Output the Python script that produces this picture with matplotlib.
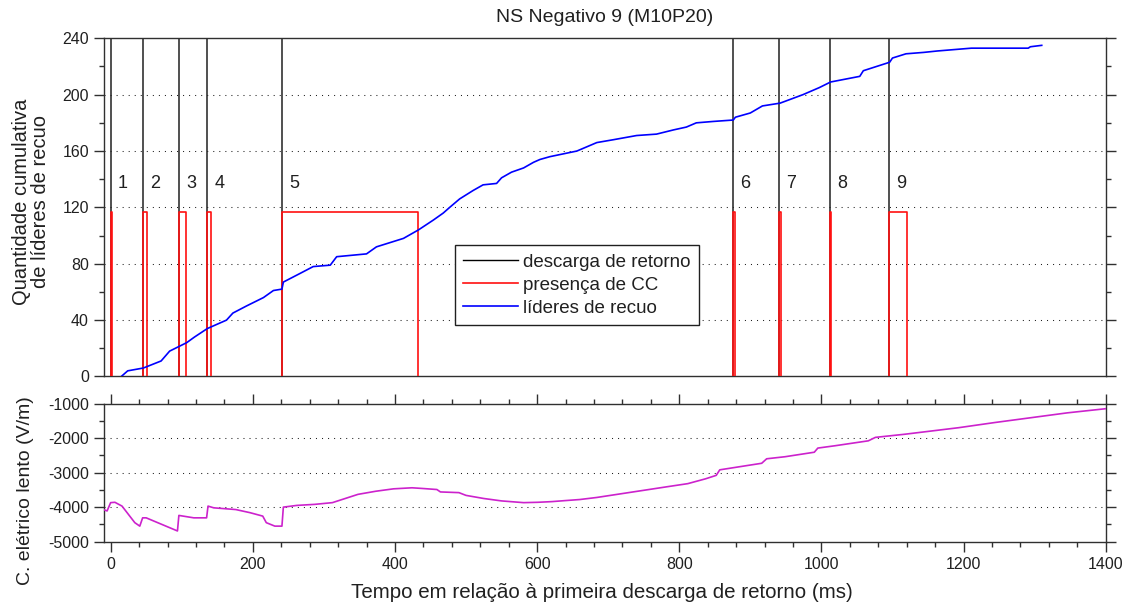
import matplotlib
matplotlib.use('Agg')
import matplotlib.pyplot as plt
from matplotlib.ticker import MultipleLocator
from matplotlib.lines import Line2D

plt.rcParams['font.family'] = ['Liberation Sans', 'DejaVu Sans']
plt.rcParams['axes.unicode_minus'] = False

# ---------------- data ----------------
stroke_times = [0, 46, 96, 136, 241, 875.5, 940.5, 1012, 1095]
stroke_labels = ['1', '2', '3', '4', '5', '6', '7', '8', '9']
cc_start = [0, 46, 96, 136, 241, 875.5, 940.5, 1012, 1095]
cc_end = [2.5, 50.5, 105.5, 141, 432.5, 878, 942.5, 1013.5, 1120]
cc_level = 117

rl_time = [15, 24, 46, 71, 83, 95, 107, 118, 136, 163,
           172, 191, 215, 229, 241, 243, 266, 285, 309, 318,
           360, 374, 412, 433, 454, 468, 477, 491, 510, 524,
           543, 550, 564, 581, 595, 604, 618, 637, 656, 670,
           684, 707, 740, 768, 792, 810, 824, 848, 876, 879,
           900, 917, 942, 974, 997, 1013, 1054, 1059, 1096, 1100,
           1119, 1144, 1163, 1211, 1291, 1294, 1310]
rl_count = [0, 4, 6, 11, 18, 21, 24, 28, 34, 40,
            45, 50, 56, 61, 62, 67, 73, 78, 79, 85,
            87, 92, 98, 104, 111, 116, 120, 126, 132, 136,
            137, 141, 145, 148, 152, 154, 156, 158, 160, 163,
            166, 168, 171, 172, 175, 177, 180, 181, 182, 184,
            187, 192, 194, 200, 205, 209, 213, 217, 223, 226,
            229, 230, 231, 233, 233, 234, 235]

ef_time = [-9, -5, 0, 6, 16, 34, 41, 45, 50, 94,
           96, 102, 117, 135, 137, 145, 176, 196, 214, 219,
           231, 241, 243, 262, 287, 312, 333, 348, 373, 398,
           424, 439, 459, 464, 490, 500, 525, 550, 581, 601,
           621, 640, 660, 684, 735, 786, 812, 837, 852, 857,
           888, 916, 923, 949, 990, 995, 1020, 1066, 1076, 1117,
           1193, 1244, 1295, 1346, 1400]
ef_value = [-4080, -4110, -3870, -3860, -3970, -4450, -4550, -4310, -4310, -4690,
            -4240, -4260, -4310, -4310, -3970, -4020, -4070, -4160, -4260, -4450,
            -4550, -4550, -4000, -3950, -3920, -3870, -3730, -3630, -3540, -3470,
            -3440, -3460, -3490, -3560, -3580, -3660, -3750, -3820, -3870, -3860,
            -3840, -3810, -3780, -3720, -3560, -3400, -3320, -3180, -3080, -2920,
            -2820, -2730, -2600, -2540, -2410, -2290, -2220, -2080, -1980, -1890,
            -1700, -1550, -1410, -1270, -1150]

legend_labels = ['descarga de retorno', 'presença de CC', 'líderes de recuo']

# ---------------- figure ----------------
W, H = 1127, 608
fig = plt.figure(figsize=(W / 100, H / 100), dpi=100)
fig.patch.set_facecolor('white')

ax1 = fig.add_axes([0.0925, 0.3808, 0.8886, 0.5562])
ax2 = fig.add_axes([0.0925, 0.1091, 0.8886, 0.2272])

spine_col = '#303030'
txt_col = '#202020'
fs = 11.5
grid_kw = dict(color='#202020', lw=0.75, linestyle=(0, (1, 4.8)), zorder=0)

for ax in (ax1, ax2):
    for s in ax.spines.values():
        s.set_color(spine_col)
        s.set_linewidth(1.0)
    ax.set_xlim(-9, 1400)
    ax.xaxis.set_major_locator(MultipleLocator(200))
    ax.xaxis.set_minor_locator(MultipleLocator(40))
    ax.tick_params(which='both', direction='out', colors=spine_col,
                   labelcolor=txt_col, labelsize=fs, width=1.0)
    ax.tick_params(which='major', length=7.5)
    ax.tick_params(which='minor', length=3.6)

# ---- top panel ----
ax1.set_ylim(0, 240)
ax1.yaxis.set_major_locator(MultipleLocator(40))
ax1.yaxis.set_minor_locator(MultipleLocator(20))
ax1.tick_params(axis='x', which='both', bottom=False, top=False, labelbottom=False)
ax1.tick_params(axis='y', which='both', left=True, right=True, labelleft=True)
for yv in range(40, 240, 40):
    ax1.axhline(yv, **grid_kw)

for t in stroke_times:
    ax1.axvline(t, color=txt_col, lw=1.1, zorder=2)
for t, lab in zip(stroke_times, stroke_labels):
    ax1.text(t + 17, 137, lab, ha='center', va='center', fontsize=13, color=txt_col)
for a, b in zip(cc_start, cc_end):
    ax1.plot([a, a, b, b], [0, cc_level, cc_level, 0], color='#ff1010', lw=1.2, zorder=3)
ax1.plot(rl_time, rl_count, color='#0000ff', lw=1.2, zorder=4)

handles = [Line2D([], [], color='black', lw=1.0),
           Line2D([], [], color='#ff1010', lw=1.2),
           Line2D([], [], color='#0000ff', lw=1.2)]
leg = ax1.legend(handles, legend_labels, loc='upper left',
                 bbox_to_anchor=(455 / W, 1 - 245 / H), bbox_transform=fig.transFigure,
                 borderaxespad=0, fontsize=13.5, handlelength=2.9, handletextpad=0.3,
                 labelspacing=0.32, borderpad=0.45, frameon=True, fancybox=False,
                 framealpha=1)
leg.get_frame().set_edgecolor(txt_col)
leg.get_frame().set_linewidth(1.0)
for txt in leg.get_texts():
    txt.set_color(txt_col)
leg.set_zorder(10)

# ---- bottom panel ----
ax2.set_ylim(-5000, -1000)
ax2.yaxis.set_major_locator(MultipleLocator(1000))
ax2.yaxis.set_minor_locator(MultipleLocator(500))
ax2.tick_params(which='both', top=True, bottom=True, left=True, right=True)
for yv in (-4000, -3000, -2000):
    ax2.axhline(yv, **grid_kw)
ax2.plot(ef_time, ef_value, color='#cc22cc', lw=1.2, zorder=3)

# ---- texts ----
fig.text(605 / W, 1 - 17 / H, 'NS Negativo 9 (M10P20)', ha='center', va='center',
         fontsize=14, color=txt_col)
fig.text(602 / W, 1 - 592 / H, 'Tempo em relação à primeira descarga de retorno (ms)',
         ha='center', va='center', fontsize=14.8, color=txt_col)
fig.text(31 / W, 1 - 202 / H, 'Quantidade cumulativa\nde líderes de recuo',
         ha='center', va='center', rotation=90, fontsize=14.5, color=txt_col,
         multialignment='center', linespacing=1.05)
fig.text(26 / W, 1 - 491 / H, 'C. elétrico lento (V/m)', ha='center', va='center',
         rotation=90, fontsize=14, color=txt_col)

fig.savefig('out.png', dpi=100)
